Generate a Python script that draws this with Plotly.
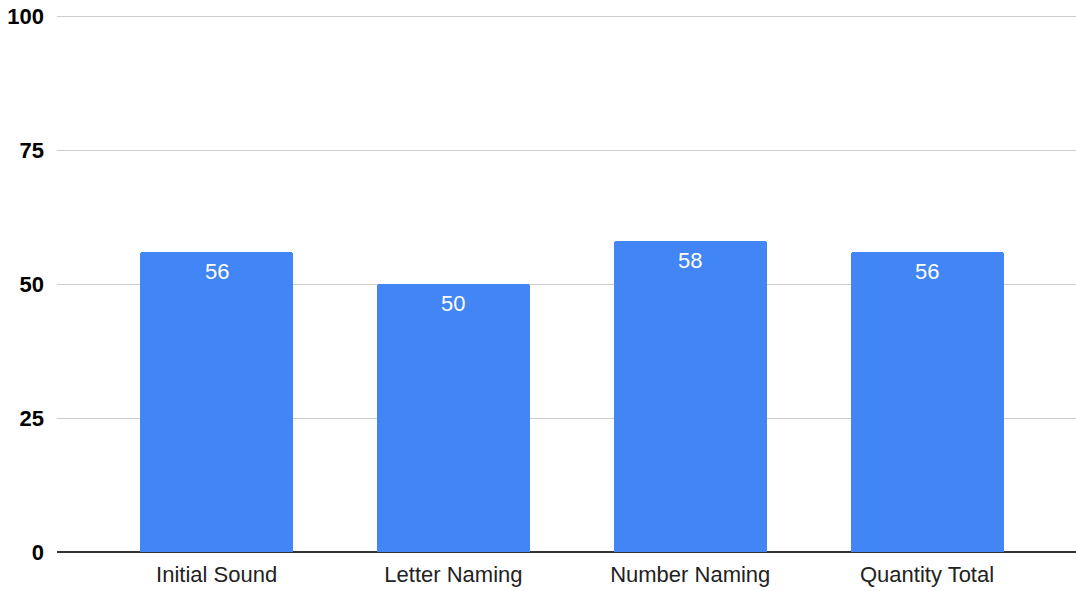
import plotly.graph_objects as go

# Assessment categories and their scores
categories = ["Initial Sound", "Letter Naming", "Number Naming", "Quantity Total"]
scores = [56, 50, 58, 56]
y_ticks = [0, 25, 50, 75, 100]

FONT = "Liberation Sans, Arial, Helvetica, sans-serif"

fig = go.Figure(
    go.Bar(
        x=categories,
        y=scores,
        width=0.646,
        marker=dict(color="#4285F4", cornerradius=3, line=dict(width=0)),
        hoverinfo="x+y",
    )
)

# Value labels sitting just inside the top of each bar
for cat, val in zip(categories, scores):
    fig.add_annotation(
        x=cat,
        y=val,
        text=str(val),
        showarrow=False,
        yanchor="middle",
        yshift=-19,
        font=dict(family=FONT, size=22, color="#ffffff"),
    )

fig.update_layout(
    width=1076,
    height=591,
    margin=dict(l=57, r=0, t=15, b=39),
    paper_bgcolor="#ffffff",
    plot_bgcolor="#ffffff",
    showlegend=False,
    bargap=0,
    xaxis=dict(
        type="category",
        range=[-0.674, 3.629],
        showgrid=False,
        showline=False,
        ticks="",
        ticklabelstandoff=7,
        tickfont=dict(family=FONT, size=22, color="#222222"),
    ),
    yaxis=dict(
        range=[0, 100.3],
        tickvals=y_ticks,
        ticktext=[str(t) for t in y_ticks],
        showgrid=True,
        gridcolor="#cccccc",
        gridwidth=1,
        zeroline=True,
        zerolinecolor="#333333",
        zerolinewidth=1.5,
        showline=False,
        ticks="",
        ticklabelstandoff=12,
        tickfont=dict(family=FONT, size=22, color="#000000", weight="bold"),
    ),
)

fig.write_html("out.html")
